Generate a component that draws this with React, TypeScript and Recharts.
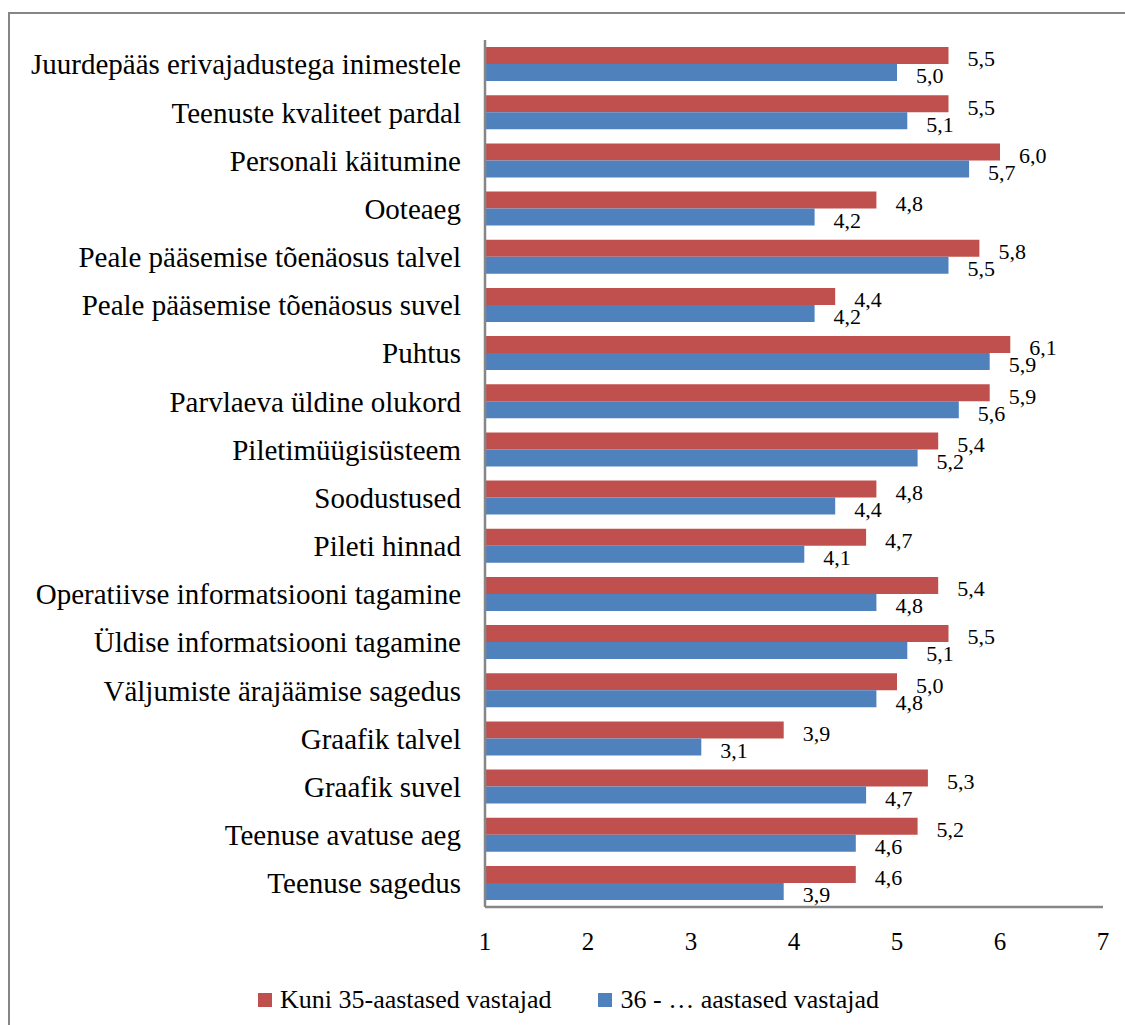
import React from "react";
import { BarChart, Bar, XAxis, YAxis, LabelList, Legend } from "recharts";

// Survey categories, listed top to bottom
const categories = [
  "Juurdepääs erivajadustega inimestele",
  "Teenuste kvaliteet pardal",
  "Personali käitumine",
  "Ooteaeg",
  "Peale pääsemise tõenäosus talvel",
  "Peale pääsemise tõenäosus suvel",
  "Puhtus",
  "Parvlaeva üldine olukord",
  "Piletimüügisüsteem",
  "Soodustused",
  "Pileti hinnad",
  "Operatiivse informatsiooni tagamine",
  "Üldise informatsiooni tagamine",
  "Väljumiste ärajäämise sagedus",
  "Graafik talvel",
  "Graafik suvel",
  "Teenuse avatuse aeg",
  "Teenuse sagedus",
];

const youngScores = [5.5, 5.5, 6.0, 4.8, 5.8, 4.4, 6.1, 5.9, 5.4, 4.8, 4.7, 5.4, 5.5, 5.0, 3.9, 5.3, 5.2, 4.6];
const olderScores = [5.0, 5.1, 5.7, 4.2, 5.5, 4.2, 5.9, 5.6, 5.2, 4.4, 4.1, 4.8, 5.1, 4.8, 3.1, 4.7, 4.6, 3.9];

const scaleTicks = [1, 2, 3, 4, 5, 6, 7];

const seriesNames = ["Kuni 35-aastased vastajad", "36 - … aastased vastajad"];
const seriesColors = ["#C0504D", "#4F81BD"];

const FONT = '"Liberation Serif", "Times New Roman", serif';
const AXIS_GRAY = "#868686";

const chartData = categories.map((name, i) => ({
  name,
  young: youngScores[i],
  older: olderScores[i],
}));

const formatScore = (v: any) => Number(v).toFixed(1).replace(".", ",");

const renderLegend = () => (
  <div
    style={{
      display: "flex",
      alignItems: "center",
      height: 50,
      paddingLeft: 248,
      fontFamily: FONT,
      fontSize: 26,
      color: "#000",
      boxSizing: "border-box",
    }}
  >
    {seriesNames.map((label, i) => (
      <div key={label} style={{ display: "flex", alignItems: "center", marginRight: 47 }}>
        <span
          style={{
            display: "inline-block",
            width: 14,
            height: 14,
            background: seriesColors[i],
            marginRight: 8,
          }}
        />
        <span style={{ whiteSpace: "nowrap", fontFamily: FONT }}>{label}</span>
      </div>
    ))}
  </div>
);

function App() {
  return (
    <div
      style={{
        position: "absolute",
        left: 8,
        top: 12,
        width: 1117,
        height: 1013,
        borderLeft: `2px solid ${AXIS_GRAY}`,
        borderTop: `2px solid ${AXIS_GRAY}`,
        boxSizing: "border-box",
        background: "#fff",
      }}
    >
      <BarChart
        layout="vertical"
        width={1115}
        height={1011}
        data={chartData}
        margin={{ top: 26, right: 22, bottom: 0, left: 0 }}
        barCategoryGap="14.7%"
        barGap={0}
      >
        <XAxis
          type="number"
          domain={[1, 7]}
          ticks={scaleTicks}
          interval={0}
          tickLine={false}
          tickSize={0}
          tickMargin={25}
          height={68}
          axisLine={{ stroke: AXIS_GRAY, strokeWidth: 2.5 }}
          tick={{ fill: "#000", fontSize: 25, fontFamily: FONT }}
        />
        <YAxis
          type="category"
          dataKey="name"
          width={475}
          interval={0}
          tickLine={false}
          tickSize={0}
          tickMargin={24}
          axisLine={{ stroke: AXIS_GRAY, strokeWidth: 2.5 }}
          tick={{ fill: "#000", fontSize: 29, fontFamily: FONT }}
        />
        <Legend
          verticalAlign="bottom"
          content={renderLegend}
          wrapperStyle={{ left: 0, bottom: 0, width: 1115 }}
        />
        <Bar dataKey="young" name={seriesNames[0]} fill={seriesColors[0]} isAnimationActive={false}>
          <LabelList
            dataKey="young"
            position="right"
            offset={19}
            formatter={formatScore}
            fill="#000"
            fontSize={22}
            fontFamily={FONT}
            dy={3}
          />
        </Bar>
        <Bar dataKey="older" name={seriesNames[1]} fill={seriesColors[1]} isAnimationActive={false}>
          <LabelList
            dataKey="older"
            position="right"
            offset={19}
            formatter={formatScore}
            fill="#000"
            fontSize={22}
            fontFamily={FONT}
            dy={3}
          />
        </Bar>
      </BarChart>
    </div>
  );
}

export default App;
